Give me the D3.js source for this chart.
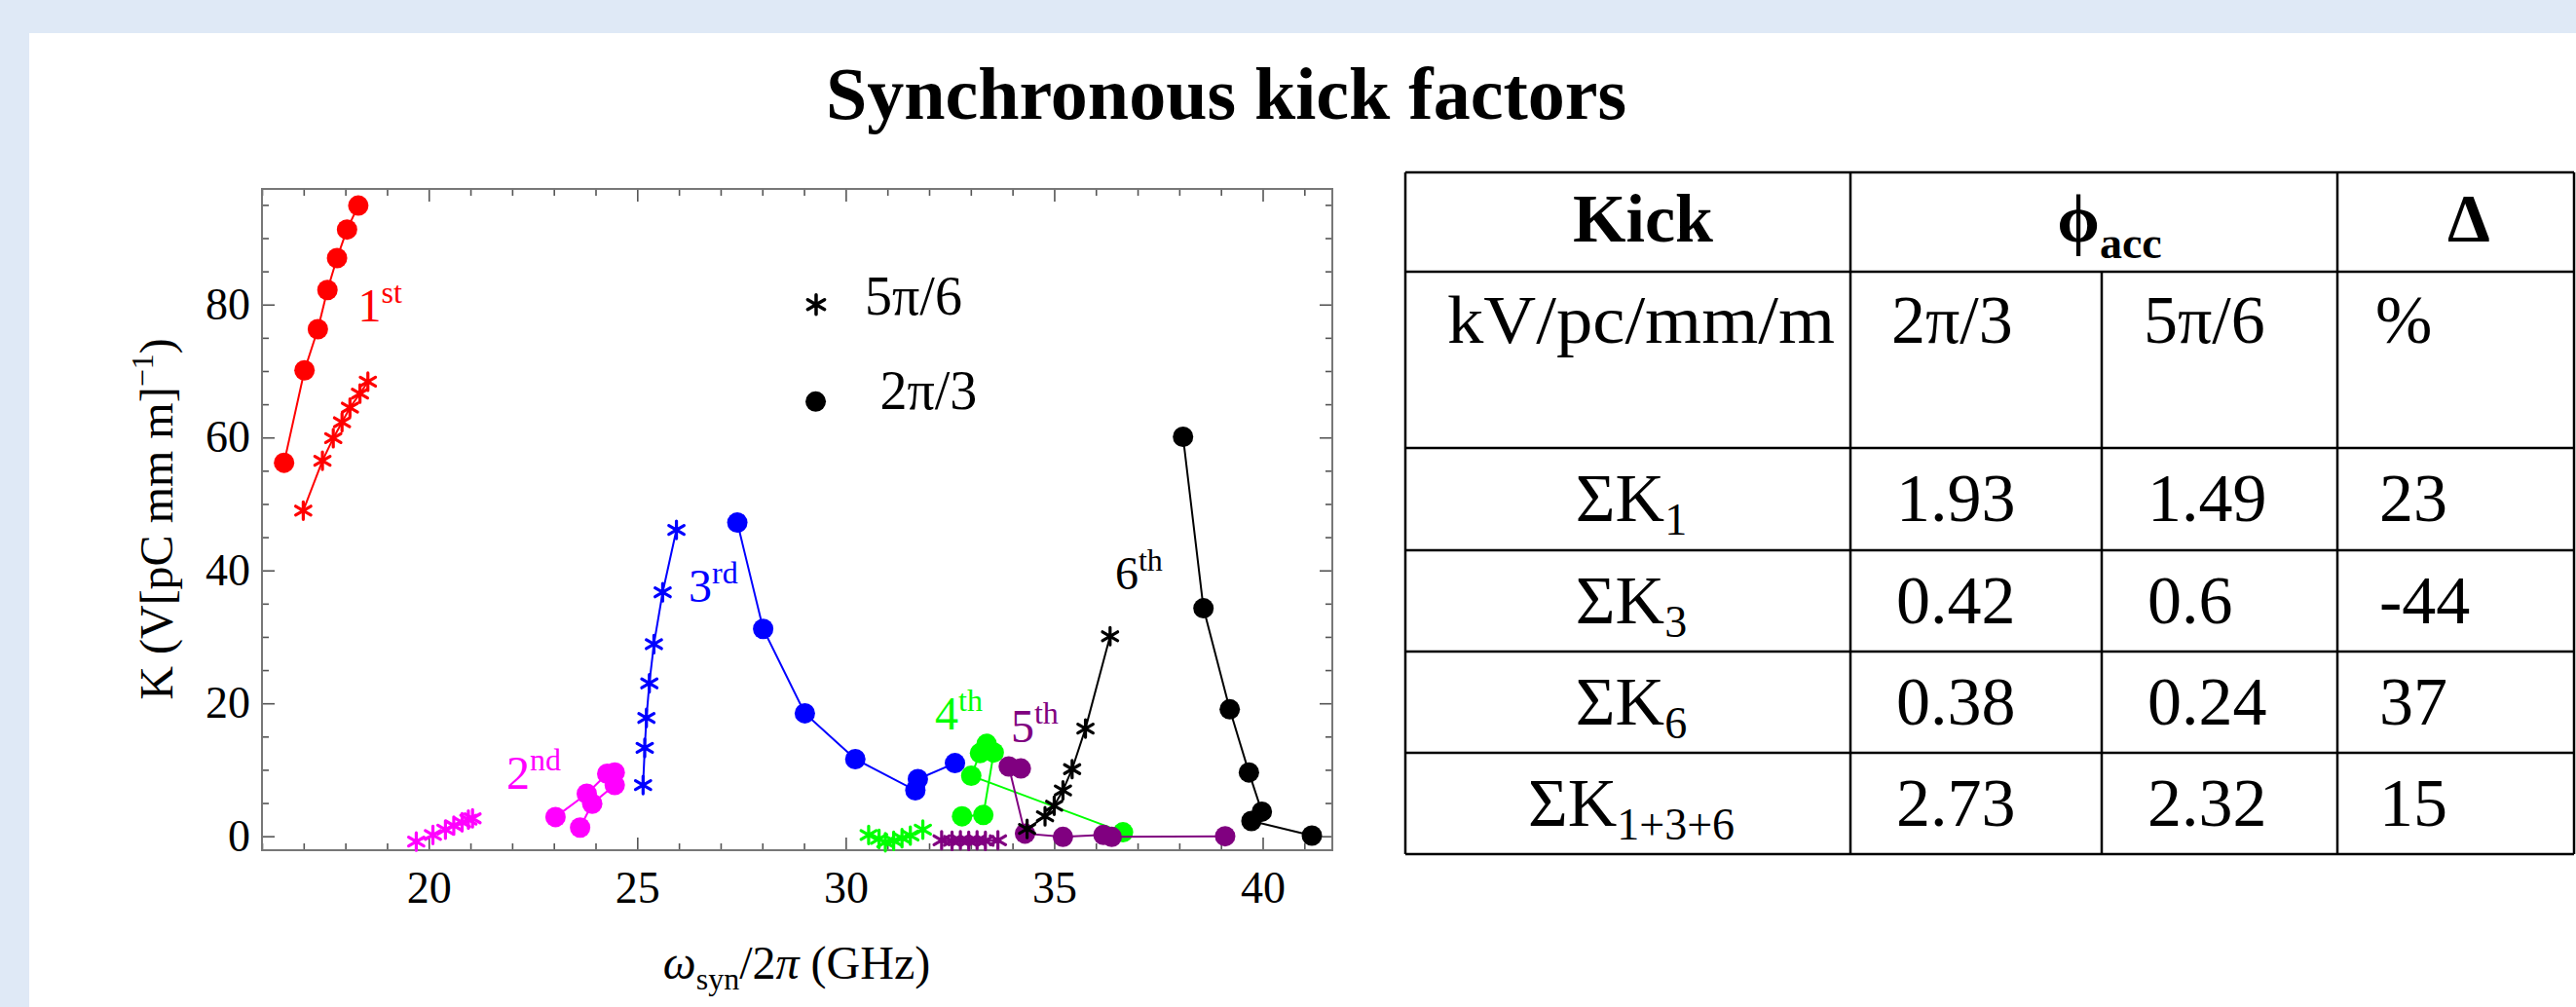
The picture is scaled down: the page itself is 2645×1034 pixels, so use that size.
<!DOCTYPE html>
<html>
<head>
<meta charset="utf-8">
<script src="https://cdn.jsdelivr.net/npm/d3@7.9.0/dist/d3.min.js"></script>
<style>
  html, body { margin: 0; padding: 0; background: #dfe9f6; }
  svg { display: block; }
  text { font-family: 'Liberation Serif', 'Times New Roman', serif; }
</style>
</head>
<body>
<svg id="chart" width="2645" height="1034"></svg>
<script>
// series data: [frequency GHz, K] pairs, 2pi/3 (circles) and 5pi/6 (stars)
const first23 = [[16.53, 56.2], [17.02, 70.1], [17.34, 76.3], [17.57, 82.2], [17.80, 87.0], [18.04, 91.3], [18.31, 94.9]];
const first56 = [[16.99, 49.0], [17.45, 56.5], [17.71, 59.9], [17.92, 62.3], [18.11, 64.5], [18.35, 66.6], [18.54, 68.4]];
const second23 = [[23.04, 2.9], [23.79, 6.4], [24.28, 9.4], [24.46, 9.6], [24.46, 7.7], [23.92, 4.9], [23.63, 1.3]];
const second56 = [[19.7, -0.8], [20.1, 0.2], [20.4, 1.0], [20.6, 1.6], [20.8, 2.1], [20.95, 2.5], [21.05, 2.7]];
const third23 = [[27.40, 47.2], [28.02, 31.2], [29.02, 18.5], [30.23, 11.6], [31.67, 6.9], [31.73, 8.6], [32.62, 11.0]];
const third56 = [[25.14, 7.7], [25.18, 13.3], [25.22, 17.8], [25.29, 23.0], [25.40, 28.9], [25.61, 36.7], [25.94, 46.1]];
const fourth23 = [[32.79, 3.0], [33.30, 3.2], [33.55, 12.6], [33.38, 13.9], [33.22, 12.5], [33.01, 9.1], [36.65, 0.6]];
const fourth56 = [[30.55, 0.2], [30.8, -0.4], [30.95, -0.9], [31.15, -0.7], [31.35, -0.3], [31.55, 0.1], [31.85, 1.0]];
const fifth23 = [[34.20, 10.2], [33.91, 10.5], [34.30, 0.4], [35.21, -0.1], [36.18, 0.2], [36.38, -0.1], [39.10, 0.0]];
const fifth56 = [[32.3, -0.6], [32.55, -0.7], [32.75, -0.6], [32.95, -0.7], [33.15, -0.6], [33.35, -0.7], [33.65, -0.6]];
const sixth23 = [[38.09, 60.1], [38.58, 34.3], [39.21, 19.1], [39.67, 9.6], [39.98, 3.7], [39.73, 2.3], [41.18, 0.1]];
const sixth56 = [[34.35, 1.1], [34.78, 3.0], [35.00, 4.6], [35.21, 6.9], [35.43, 10.1], [35.75, 16.2], [36.34, 30.1]];

const xMajorTicks = [20, 25, 30, 35, 40];
const yMajorTicks = [0, 20, 40, 60, 80];

// table contents
const tableHead = ['Kick', 'ϕ', 'Δ'];
const tableUnits = ['kV/pc/mm/m', '2π/3', '5π/6', '%'];
const kickIndex = ['1', '3', '6', '1+3+6'];
const kickPhi23 = ['1.93', '0.42', '0.38', '2.73'];
const kickPhi56 = ['1.49', '0.6', '0.24', '2.32'];
const kickDelta = ['23', '-44', '37', '15'];

const series = [
  { circles: first23, stars: first56, color: '#ff0000', num: '1', sup: 'st', at: [18.3, 77.5] },
  { circles: second23, stars: second56, color: '#ff00ff', num: '2', sup: 'nd', at: [21.86, 7.1] },
  { circles: third23, stars: third56, color: '#0000ff', num: '3', sup: 'rd', at: [26.23, 35.3] },
  { circles: fourth23, stars: fourth56, color: '#00ff00', num: '4', sup: 'th', at: [32.14, 16.1] },
  { circles: fifth23, stars: fifth56, color: '#800080', num: '5', sup: 'th', at: [33.96, 14.2] },
  { circles: sixth23, stars: sixth56, color: '#000000', num: '6', sup: 'th', at: [36.46, 37.2] },
];

const svg = d3.select('#chart');

// white panel
svg.append('rect').attr('x', 30).attr('y', 34).attr('width', 2615).attr('height', 1000).attr('fill', '#ffffff');

svg.append('text')
  .attr('x', 1259).attr('y', 122)
  .attr('text-anchor', 'middle')
  .attr('font-size', 76).attr('font-weight', 'bold')
  .text('Synchronous kick factors');

const x = d3.scaleLinear().domain([16, 41.67]).range([269, 1368]);
const y = d3.scaleLinear().domain([-2.1, 97.4]).range([873, 194]);

const plot = svg.append('g');

// axes with inward ticks
function styleAxis(g) {
  g.select('.domain').remove();
  g.selectAll('line').attr('stroke', '#555').attr('stroke-width', 1.6);
  g.selectAll('text').attr('font-size', 46).attr('fill', '#000').attr('font-family', "'Liberation Serif', serif");
}

const xMinor = d3.range(16, 42, 1).filter((v) => !xMajorTicks.includes(v));
const yMinor = d3.range(0, 96, 5).filter((v) => !yMajorTicks.includes(v));

plot.append('g').attr('transform', 'translate(0,873)')
  .call(d3.axisBottom(x).tickValues(xMajorTicks).tickSize(-13).tickPadding(21).tickFormat(d3.format('d')))
  .call(styleAxis);
plot.append('g').attr('transform', 'translate(0,873)')
  .call(d3.axisBottom(x).tickValues(xMinor).tickSize(-7).tickFormat(''))
  .call(styleAxis);
plot.append('g').attr('transform', 'translate(0,194)')
  .call(d3.axisTop(x).tickValues(xMajorTicks).tickSize(-13).tickFormat(''))
  .call(styleAxis);
plot.append('g').attr('transform', 'translate(0,194)')
  .call(d3.axisTop(x).tickValues(xMinor).tickSize(-7).tickFormat(''))
  .call(styleAxis);
plot.append('g').attr('transform', 'translate(269,0)')
  .call(d3.axisLeft(y).tickValues(yMajorTicks).tickSize(-13).tickPadding(12).tickFormat(d3.format('d')))
  .call(styleAxis);
plot.append('g').attr('transform', 'translate(269,0)')
  .call(d3.axisLeft(y).tickValues(yMinor).tickSize(-7).tickFormat(''))
  .call(styleAxis);
plot.append('g').attr('transform', 'translate(1368,0)')
  .call(d3.axisRight(y).tickValues(yMajorTicks).tickSize(-13).tickFormat(''))
  .call(styleAxis);
plot.append('g').attr('transform', 'translate(1368,0)')
  .call(d3.axisRight(y).tickValues(yMinor).tickSize(-7).tickFormat(''))
  .call(styleAxis);

plot.append('rect')
  .attr('x', 269).attr('y', 194).attr('width', 1368 - 269).attr('height', 873 - 194)
  .attr('fill', 'none').attr('stroke', '#777').attr('stroke-width', 2);

// axis titles
const xTitle = plot.append('text').attr('x', 818).attr('y', 1005).attr('text-anchor', 'middle').attr('font-size', 48);
xTitle.append('tspan').attr('font-style', 'italic').text('ω');
xTitle.append('tspan').attr('font-size', 32).attr('dy', 11).text('syn');
xTitle.append('tspan').attr('dy', -11).text('/2');
xTitle.append('tspan').attr('font-style', 'italic').text('π');
xTitle.append('tspan').text(' (GHz)');

const yTitle = plot.append('text')
  .attr('transform', 'translate(177,533) rotate(-90)')
  .attr('text-anchor', 'middle').attr('font-size', 48);
yTitle.append('tspan').text('K (V[pC mm m]');
yTitle.append('tspan').attr('font-size', 32).attr('dy', -20).text('−1');
yTitle.append('tspan').attr('dy', 20).text(')');

// markers
function starPath(r) {
  const c = r * Math.cos(Math.PI / 6);
  const s = r * Math.sin(Math.PI / 6);
  return `M0,${-r}L0,${r}M${-c},${-s}L${c},${s}M${-c},${s}L${c},${-s}`;
}

const line = d3.line().x((d) => x(d[0])).y((d) => y(d[1]));

series.forEach((s) => {
  const g = plot.append('g');
  g.append('path').attr('d', line(s.stars)).attr('fill', 'none').attr('stroke', s.color).attr('stroke-width', 2);
  g.append('path').attr('d', line(s.circles)).attr('fill', 'none').attr('stroke', s.color).attr('stroke-width', 2);
  g.selectAll('circle').data(s.circles).join('circle')
    .attr('cx', (d) => x(d[0])).attr('cy', (d) => y(d[1])).attr('r', 10.5)
    .attr('fill', s.color);
  g.selectAll('path.star').data(s.stars).join('path')
    .attr('class', 'star')
    .attr('transform', (d) => `translate(${x(d[0])},${y(d[1])})`)
    .attr('d', starPath(9))
    .attr('stroke', s.color).attr('stroke-width', 3.2).attr('stroke-linecap', 'round').attr('fill', 'none');

  const lab = g.append('text')
    .attr('x', x(s.at[0])).attr('y', y(s.at[1]))
    .attr('font-size', 48).attr('fill', s.color);
  lab.append('tspan').text(s.num);
  lab.append('tspan').attr('font-size', 32).attr('dy', -19).text(s.sup);
});

// legend
const legend = plot.append('g');
legend.append('path')
  .attr('transform', `translate(${x(29.29)},${y(80.0)})`)
  .attr('d', starPath(10)).attr('stroke', '#000').attr('stroke-width', 3.5).attr('stroke-linecap', 'round').attr('fill', 'none');
legend.append('text').attr('x', x(30.46)).attr('y', y(78.5)).attr('font-size', 56).text('5π/6');
legend.append('circle').attr('cx', x(29.28)).attr('cy', y(65.4)).attr('r', 10.5).attr('fill', '#000');
legend.append('text').attr('x', x(30.82)).attr('y', y(64.3)).attr('font-size', 56).text('2π/3');

// table
const colX = [1443, 1900, 2158, 2400, 2643];
const rowY = [177, 279, 460, 565, 669, 773, 877];
const table = svg.append('g');
const tline = (x1, y1, x2, y2) => table.append('line')
  .attr('x1', x1).attr('y1', y1).attr('x2', x2).attr('y2', y2)
  .attr('stroke', '#000').attr('stroke-width', 2.5);

rowY.forEach((ry) => tline(colX[0], ry, colX[4], ry));
[0, 1, 3, 4].forEach((i) => tline(colX[i], rowY[0], colX[i], rowY[6]));
tline(colX[2], rowY[1], colX[2], rowY[6]);

const fs = 70;
table.append('text').attr('x', 1687).attr('y', 248)
  .attr('text-anchor', 'middle').attr('font-size', fs).attr('font-weight', 'bold').text(tableHead[0]);
const phiText = table.append('text').attr('x', 2166).attr('y', 248)
  .attr('text-anchor', 'middle').attr('font-size', fs).attr('font-weight', 'bold');
phiText.append('tspan').text(tableHead[1]);
phiText.append('tspan').attr('font-size', 46).attr('dy', 17).text('acc');
table.append('text').attr('x', 2535).attr('y', 248)
  .attr('text-anchor', 'middle').attr('font-size', fs).attr('font-weight', 'bold').text(tableHead[2]);

const unitX = [1486, 1942, 2201, 2439];
tableUnits.forEach((t, i) => {
  const u = table.append('text').attr('x', unitX[i]).attr('y', 352).attr('font-size', fs).text(t);
  if (i === 0) u.attr('textLength', 398).attr('lengthAdjust', 'spacingAndGlyphs');
});

const valX = [1947, 2205, 2443];
kickIndex.forEach((k, i) => {
  const base = rowY[i + 2] + 75;
  const name = table.append('text').attr('x', 1675).attr('y', base)
    .attr('text-anchor', 'middle').attr('font-size', fs);
  name.append('tspan').text('ΣK');
  name.append('tspan').attr('font-size', 46).attr('dy', 14).text(k);
  [kickPhi23[i], kickPhi56[i], kickDelta[i]].forEach((v, j) => {
    table.append('text').attr('x', valX[j]).attr('y', base).attr('font-size', fs).text(v);
  });
});
</script>
</body>
</html>
